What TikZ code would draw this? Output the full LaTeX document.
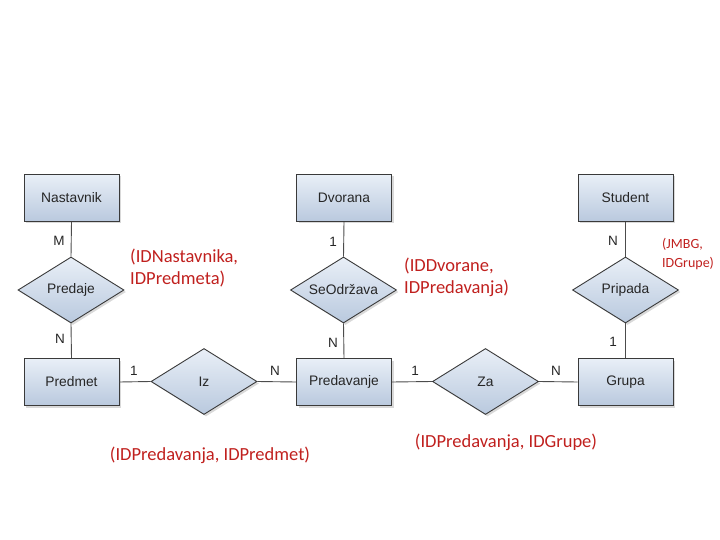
\documentclass[tikz,border=0pt]{standalone}
\usepackage{fontspec}
\setmainfont{Liberation Sans}
\newfontfamily\redfont{Carlito}
\usetikzlibrary{shapes.geometric,shadows}
\definecolor{erborder}{HTML}{3A3A3A}
\definecolor{ertop}{HTML}{E9EFF7}
\definecolor{erbot}{HTML}{B9C9DE}
\definecolor{erred}{HTML}{C0201E}
\tikzset{
  entity/.style={draw=erborder, line width=0.9pt, top color=ertop, bottom color=erbot,
    minimum width=95pt, minimum height=47pt, inner sep=0pt,
    drop shadow={shadow xshift=2pt, shadow yshift=-2pt, opacity=0.3, fill=gray},
    font=\fontsize{13.8}{16}\selectfont, text=black!85},
  rel/.style={draw=erborder, line width=0.9pt, shape=diamond, top color=ertop, bottom color=erbot,
    minimum width=106pt, minimum height=66pt, inner sep=0pt, aspect=1.6,
    drop shadow={shadow xshift=2pt, shadow yshift=-2pt, opacity=0.3, fill=gray},
    font=\fontsize{13.8}{16}\selectfont, text=black!85},
  conn/.style={draw=black!70, line width=0.9pt},
  card/.style={font=\fontsize{13.5}{15}\selectfont, text=black!85, inner sep=0pt},
  note/.style={font=\redfont\fontsize{18.5}{22}\selectfont, text=erred, inner sep=0pt, align=left},
}
\begin{document}
\begin{tikzpicture}[x=1pt,y=-1pt]
\useasboundingbox (0,0) rectangle (720,540);
% entities
\node[entity] (nast) at (71.5,198) {Nastavnik};
\node[entity] (dvor) at (344,198) {Dvorana};
\node[entity] (stud) at (625.5,198) {Student};
\node[entity] (pred) at (71.5,382) {Predmet};
\node[entity] (preda) at (344,382) {Predavanje};
\node[entity] (grup) at (625.5,382) {Grupa};
% relationships
\node[rel] (predaje) at (71,290) {Predaje};
\node[rel] (seod) at (343.5,290) {SeOdržava};
\node[rel] (prip) at (625.5,290) {Pripada};
\node[rel] (iz) at (204,381.5) {Iz};
\node[rel] (za) at (485.5,381.5) {Za};
% connectors
\draw[conn] (nast.south) -- (predaje.north);
\draw[conn] (predaje.south) -- (pred.north);
\draw[conn] (dvor.south) -- (seod.north);
\draw[conn] (seod.south) -- (preda.north);
\draw[conn] (stud.south) -- (prip.north);
\draw[conn] (prip.south) -- (grup.north);
\draw[conn] (pred.east) -- (iz.west);
\draw[conn] (iz.east) -- (preda.west);
\draw[conn] (preda.east) -- (za.west);
\draw[conn] (za.east) -- (grup.west);
% cardinalities
\node[card] (c1) at (59,241) {M};
\node[card] (c2) at (60,339) {N};
\node[card] (c3) at (333,242) {1};
\node[card] (c4) at (333,343) {N};
\node[card] (c5) at (613,241) {N};
\node[card] (c6) at (613,342) {1};
\node[card] (c7) at (134,371) {1};
\node[card] (c8) at (275,371) {N};
\node[card] (c9) at (415,371) {1};
\node[card] (c10) at (556,371) {N};
% notes
\node[note, anchor=north west] (n1) at (130,249) {(IDNastavnika,\\IDPredmeta)};
\node[note, anchor=north west] (n2) at (404,258) {(IDDvorane,\\IDPredavanja)};
\node[note, anchor=north west, font=\redfont\fontsize{14}{19}\selectfont] (n3) at (662,238) {(JMBG,\\IDGrupe)};
\node[note] (n4) at (210,455) {(IDPredavanja, IDPredmet)};
\node[note] (n5) at (506,442) {(IDPredavanja, IDGrupe)};
\end{tikzpicture}
\end{document}
